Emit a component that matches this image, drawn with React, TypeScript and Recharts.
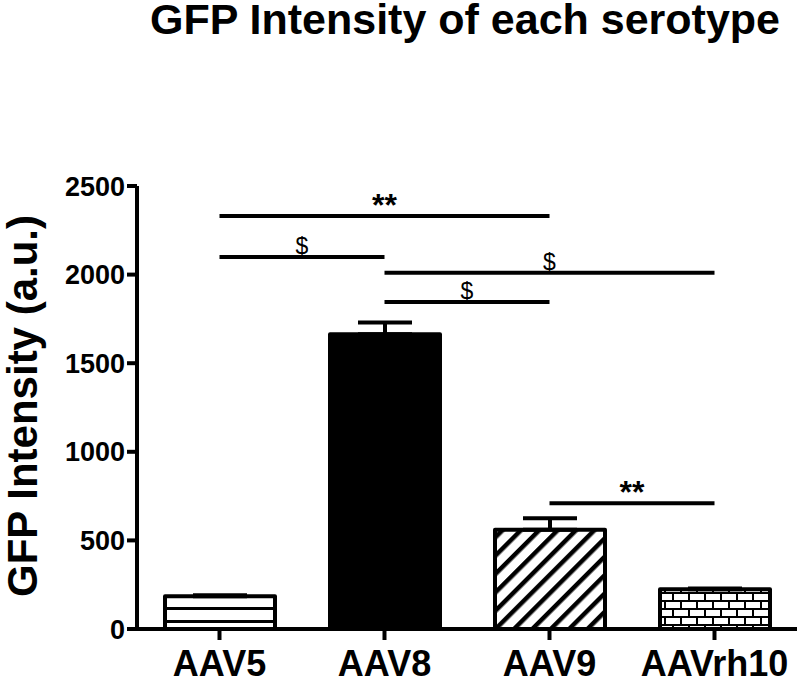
import { BarChart, Bar, XAxis, YAxis, Cell, ErrorBar, ReferenceLine } from 'recharts';

const serotypes = ['AAV5', 'AAV8', 'AAV9', 'AAVrh10'];
const meanIntensity = [185, 1663, 560, 224];
const semIntensity = [6, 66, 65, 5];
const yTicks = [0, 500, 1000, 1500, 2000, 2500];
const barFills = ['url(#hlines)', '#000', 'url(#diag)', 'url(#brick)'];

// significance bars
const bracketFrom = ['AAV5', 'AAV5', 'AAV8', 'AAV8', 'AAV9'];
const bracketTo = ['AAV9', 'AAV8', 'AAVrh10', 'AAV9', 'AAVrh10'];
const bracketY = [2330, 2100, 2010, 1845, 710];
const bracketMark = ['**', '$', '$', '$', '**'];

const data = serotypes.map((name, i) => ({
  name,
  mean: meanIntensity[i],
  err: [0, semIntensity[i]],
}));

const FONT = '"Liberation Sans", Arial, Helvetica, sans-serif';

export default function App() {
  return (
    <div style={{ position: 'absolute', left: 0, top: 0, width: 800, height: 677, background: '#fff' }}>
      <BarChart
        width={800}
        height={677}
        data={data}
        margin={{ top: 186, right: 3, bottom: 0, left: 0 }}
        barSize={110}
      >
        <defs>
          <pattern id="hlines" patternUnits="userSpaceOnUse" width={10} height={13}>
            <rect width={10} height={13} fill="#fff" />
            <rect y={9} width={10} height={3} fill="#000" />
          </pattern>
          <pattern id="diag" patternUnits="userSpaceOnUse" width={13} height={13} patternTransform="rotate(45)">
            <rect width={13} height={13} fill="#fff" />
            <rect width={4.5} height={13} fill="#000" />
          </pattern>
          <pattern id="brick" patternUnits="userSpaceOnUse" width={16} height={16}>
            <rect width={16} height={16} fill="#fff" />
            <rect y={0} width={16} height={2} fill="#000" />
            <rect y={8} width={16} height={2} fill="#000" />
            <rect x={0} y={0} width={2} height={8} fill="#000" />
            <rect x={8} y={8} width={2} height={8} fill="#000" />
          </pattern>
        </defs>
        <XAxis
          dataKey="name"
          height={48}
          tickSize={11}
          tickMargin={10}
          axisLine={{ stroke: '#000', strokeWidth: 4 }}
          tickLine={{ stroke: '#000', strokeWidth: 4 }}
          tick={{ fill: '#000', fontSize: 36, fontWeight: 'bold', fontFamily: FONT }}
          interval={0}
        />
        <YAxis
          width={137}
          domain={[0, 2500]}
          ticks={yTicks}
          tickSize={10}
          tickMargin={2}
          axisLine={{ stroke: '#000', strokeWidth: 4 }}
          tickLine={{ stroke: '#000', strokeWidth: 4 }}
          tick={{ fill: '#000', fontSize: 27, fontWeight: 'bold', fontFamily: FONT }}
        />
        <Bar
          dataKey="mean"
          stroke="#000"
          strokeWidth={4}
          strokeLinejoin="round"
          isAnimationActive={false}
        >
          {data.map((d, i) => (
            <Cell key={d.name} fill={barFills[i]} />
          ))}
          <ErrorBar dataKey="err" direction="y" width={27} stroke="#000" strokeWidth={4} />
        </Bar>
        {bracketY.map((y, i) => (
          <ReferenceLine
            key={i}
            segment={[
              { x: bracketFrom[i], y },
              { x: bracketTo[i], y },
            ]}
            stroke="#000"
            strokeWidth={4}
            label={{
              value: bracketMark[i],
              position: 'top',
              offset: bracketMark[i] === '**' ? 0 : 3,
              fill: '#000',
              fontSize: bracketMark[i] === '**' ? 32 : 23,
              fontWeight: bracketMark[i] === '**' ? 'bold' : 'normal',
              fontFamily: FONT,
            }}
          />
        ))}
      </BarChart>
      <svg width={800} height={677} style={{ position: 'absolute', left: 0, top: 0, pointerEvents: 'none' }}>
        <text
          x={465}
          y={34}
          textAnchor="middle"
          fontFamily={FONT}
          fontWeight="bold"
          fontSize={43}
          fill="#000"
        >
          GFP Intensity of each serotype
        </text>
        <text
          transform="translate(37,406) rotate(-90)"
          textAnchor="middle"
          fontFamily={FONT}
          fontWeight="bold"
          fontSize={42}
          fill="#000"
        >
          GFP Intensity (a.u.)
        </text>
      </svg>
    </div>
  );
}
